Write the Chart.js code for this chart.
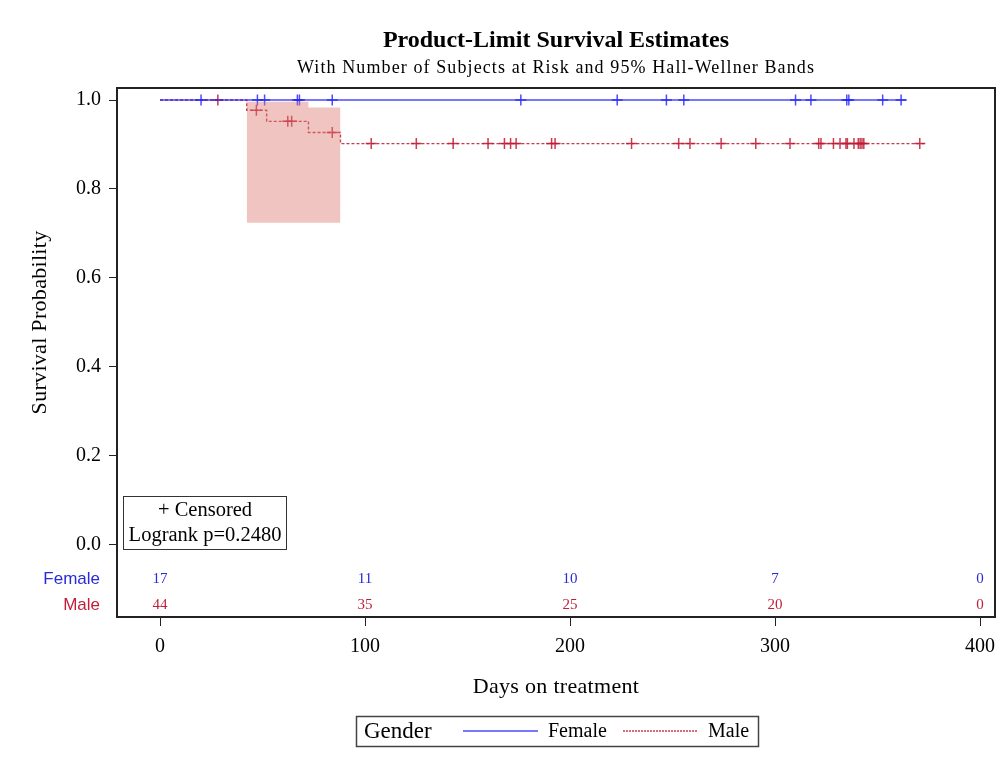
<!DOCTYPE html>
<html>
<head>
<meta charset="utf-8">
<script src="https://cdn.jsdelivr.net/npm/chart.js@4"></script>
<style>
  body { margin: 0; background: #fff; }
  #wrap { width: 1002px; height: 760px; }
</style>
</head>
<body>
<div id="wrap"><canvas id="kmChart" width="1002" height="760"></canvas></div>
<script>
// at-risk table
const riskDays = [0, 100, 200, 300, 400];
const femaleAtRisk = [17, 11, 10, 7, 0];
const maleAtRisk = [44, 35, 25, 20, 0];

// survival curves (step points)
const femaleTimes = [0, 364];
const femaleSurv = [1, 1];
const femaleCensored = [20, 47.5, 51, 67, 68, 84, 176, 223, 247, 255.5, 310, 317.5, 335, 336, 352.5, 361.5];

const maleTimes = [0, 42.3, 52, 72.4, 88, 372.8];
const maleSurv = [1, 0.977, 0.952, 0.927, 0.902, 0.902];
const maleCensored = [28.2, 47, 62.3, 64.2, 84, 103, 125, 143, 160, 168, 171, 173.7, 191, 192.7, 230, 253,
    258.5, 273.7, 290.6, 307.3, 321.3, 322.4, 328.5, 331.7, 334.6, 335.3, 338.5, 340.6, 341.5, 342.4, 343.3, 370.6];

// 95% Hall-Wellner band for Male
const bandTimes = [42.3, 72.4, 88];
const bandUpper = [0.996, 0.983, 0.983];
const bandLower = [0.724, 0.724, 0.724];

const yTicks = [0, 0.2, 0.4, 0.6, 0.8, 1.0];

const blueLine = 'rgba(30,30,255,0.8)';
const redLine = 'rgba(190,25,50,0.85)';
const blueText = '#2a2ad8';
const redText = '#c21e3a';
const serif = '"Liberation Serif", "DejaVu Serif", serif';
const sans = '"Liberation Sans", Arial, sans-serif';

function survAt(times, surv, t) {
    var s = surv[0];
    for (var i = 0; i < times.length; i++) {
        if (times[i] <= t) s = surv[i];
    }
    return s;
}

function pts(xs, ys) {
    return xs.map(function (x, i) { return { x: x, y: ys[i] }; });
}

function spaced(ctx, px) {
    if ('letterSpacing' in ctx) ctx.letterSpacing = px + 'px';
}

const kmPlugin = {
    id: 'kmExtras',
    afterDraw: function (chart) {
        const ctx = chart.ctx;
        const a = chart.chartArea;
        const xs = chart.scales.x;
        const ys = chart.scales.y;
        const midX = (a.left + a.right) / 2;

        ctx.save();
        // frame
        ctx.strokeStyle = '#222';
        ctx.lineWidth = 2;
        ctx.strokeRect(a.left, a.top, a.right - a.left, a.bottom - a.top);

        // titles
        ctx.fillStyle = '#000';
        ctx.textAlign = 'center';
        ctx.textBaseline = 'middle';
        ctx.font = 'bold 24px ' + serif;
        ctx.fillText('Product-Limit Survival Estimates', midX, 41);
        ctx.font = '18px ' + serif;
        spaced(ctx, 1.1);
        ctx.fillText('With Number of Subjects at Risk and 95% Hall-Wellner Bands', midX, 68);

        // axis titles
        ctx.font = '22px ' + serif;
        spaced(ctx, 0.3);
        ctx.fillText('Days on treatment', midX, 687);
        ctx.save();
        ctx.translate(40, (ys.getPixelForValue(0) + ys.getPixelForValue(1)) / 2);
        ctx.rotate(-Math.PI / 2);
        ctx.fillText('Survival Probability', 0, 0);
        ctx.restore();
        spaced(ctx, 0);

        // at-risk rows
        const rowF = ys.getPixelForValue(-0.074);
        const rowM = ys.getPixelForValue(-0.133);
        ctx.font = '15px ' + serif;
        riskDays.forEach(function (d, i) {
            const px = xs.getPixelForValue(d);
            ctx.fillStyle = blueText;
            ctx.fillText(String(femaleAtRisk[i]), px, rowF + 1);
            ctx.fillStyle = redText;
            ctx.fillText(String(maleAtRisk[i]), px, rowM + 1);
        });
        ctx.textAlign = 'right';
        ctx.font = '17px ' + sans;
        ctx.fillStyle = blueText;
        ctx.fillText('Female', 100, rowF + 1);
        ctx.fillStyle = redText;
        ctx.fillText('Male', 100, rowM + 1);

        // censored / logrank box
        ctx.strokeStyle = '#333';
        ctx.lineWidth = 1;
        ctx.strokeRect(123.5, 496.5, 163, 53);
        ctx.fillStyle = '#000';
        ctx.textAlign = 'center';
        ctx.font = '20.5px ' + serif;
        ctx.fillText('+ Censored', 205, 511);
        ctx.fillText('Logrank p=0.2480', 205, 536);

        // legend
        ctx.strokeStyle = '#444';
        ctx.lineWidth = 1.5;
        ctx.strokeRect(356.5, 716.5, 402, 30);
        ctx.textAlign = 'left';
        ctx.font = '23px ' + serif;
        ctx.fillStyle = '#000';
        ctx.fillText('Gender', 364, 732);
        ctx.font = '20px ' + serif;
        ctx.fillText('Female', 548, 732);
        ctx.fillText('Male', 708, 732);
        ctx.lineWidth = 1.3;
        ctx.strokeStyle = blueLine;
        ctx.beginPath();
        ctx.moveTo(463, 731);
        ctx.lineTo(538, 731);
        ctx.stroke();
        ctx.strokeStyle = redLine;
        ctx.setLineDash([2, 1]);
        ctx.beginPath();
        ctx.moveTo(623, 731);
        ctx.lineTo(697, 731);
        ctx.stroke();
        ctx.setLineDash([]);
        ctx.restore();
    }
};

new Chart(document.getElementById('kmChart').getContext('2d'), {
    type: 'scatter',
    data: {
        datasets: [
            {
                label: 'band lower',
                data: pts(bandTimes, bandLower),
                showLine: true,
                stepped: 'before',
                borderWidth: 0,
                borderColor: 'rgba(0,0,0,0)',
                pointRadius: 0,
                fill: false
            },
            {
                label: 'band upper',
                data: pts(bandTimes, bandUpper),
                showLine: true,
                stepped: 'before',
                borderWidth: 0,
                borderColor: 'rgba(0,0,0,0)',
                backgroundColor: 'rgba(222,125,115,0.45)',
                pointRadius: 0,
                fill: '-1'
            },
            {
                label: 'Female',
                data: pts(femaleTimes, femaleSurv),
                showLine: true,
                stepped: 'before',
                borderColor: blueLine,
                borderWidth: 1.4,
                pointRadius: 0
            },
            {
                label: 'Female censored',
                data: femaleCensored.map(function (t) { return { x: t, y: survAt(femaleTimes, femaleSurv, t) }; }),
                pointStyle: 'cross',
                pointRadius: 5.5,
                borderColor: blueLine,
                borderWidth: 1.5
            },
            {
                label: 'Male',
                data: pts(maleTimes, maleSurv),
                showLine: true,
                stepped: 'before',
                borderColor: redLine,
                borderWidth: 1.4,
                borderDash: [3, 2],
                pointRadius: 0
            },
            {
                label: 'Male censored',
                data: maleCensored.map(function (t) { return { x: t, y: survAt(maleTimes, maleSurv, t) }; }),
                pointStyle: 'cross',
                pointRadius: 5.5,
                borderColor: redLine,
                borderWidth: 1.5
            }
        ]
    },
    options: {
        responsive: false,
        animation: false,
        devicePixelRatio: 1,
        layout: { padding: { top: 88, right: 7, left: 0, bottom: 0 } },
        plugins: {
            legend: { display: false },
            tooltip: { enabled: false }
        },
        scales: {
            x: {
                type: 'linear',
                min: -21,
                max: 407.3,
                afterBuildTicks: function (scale) {
                    scale.ticks = riskDays.map(function (v) { return { value: v }; });
                },
                afterFit: function (scale) {
                    scale.height = 143;
                    scale.paddingLeft = 0;
                    scale.paddingRight = 0;
                },
                grid: { drawOnChartArea: false, drawTicks: true, tickLength: 9, color: '#222' },
                border: { display: true, color: '#222', width: 2 },
                ticks: {
                    color: '#000',
                    padding: 9,
                    maxRotation: 0,
                    font: { family: serif, size: 20 }
                }
            },
            y: {
                min: -0.162,
                max: 1.027,
                afterBuildTicks: function (scale) {
                    scale.ticks = yTicks.map(function (v) { return { value: v }; });
                },
                afterFit: function (scale) {
                    scale.width = 117;
                    scale.paddingTop = 0;
                    scale.paddingBottom = 0;
                },
                grid: { drawOnChartArea: false, drawTicks: true, tickLength: 8, color: '#222' },
                border: { display: true, color: '#222', width: 2 },
                ticks: {
                    color: '#000',
                    padding: 8,
                    font: { family: serif, size: 20 },
                    callback: function (v) { return Number(v).toFixed(1); }
                }
            }
        }
    },
    plugins: [kmPlugin]
});
</script>
</body>
</html>
